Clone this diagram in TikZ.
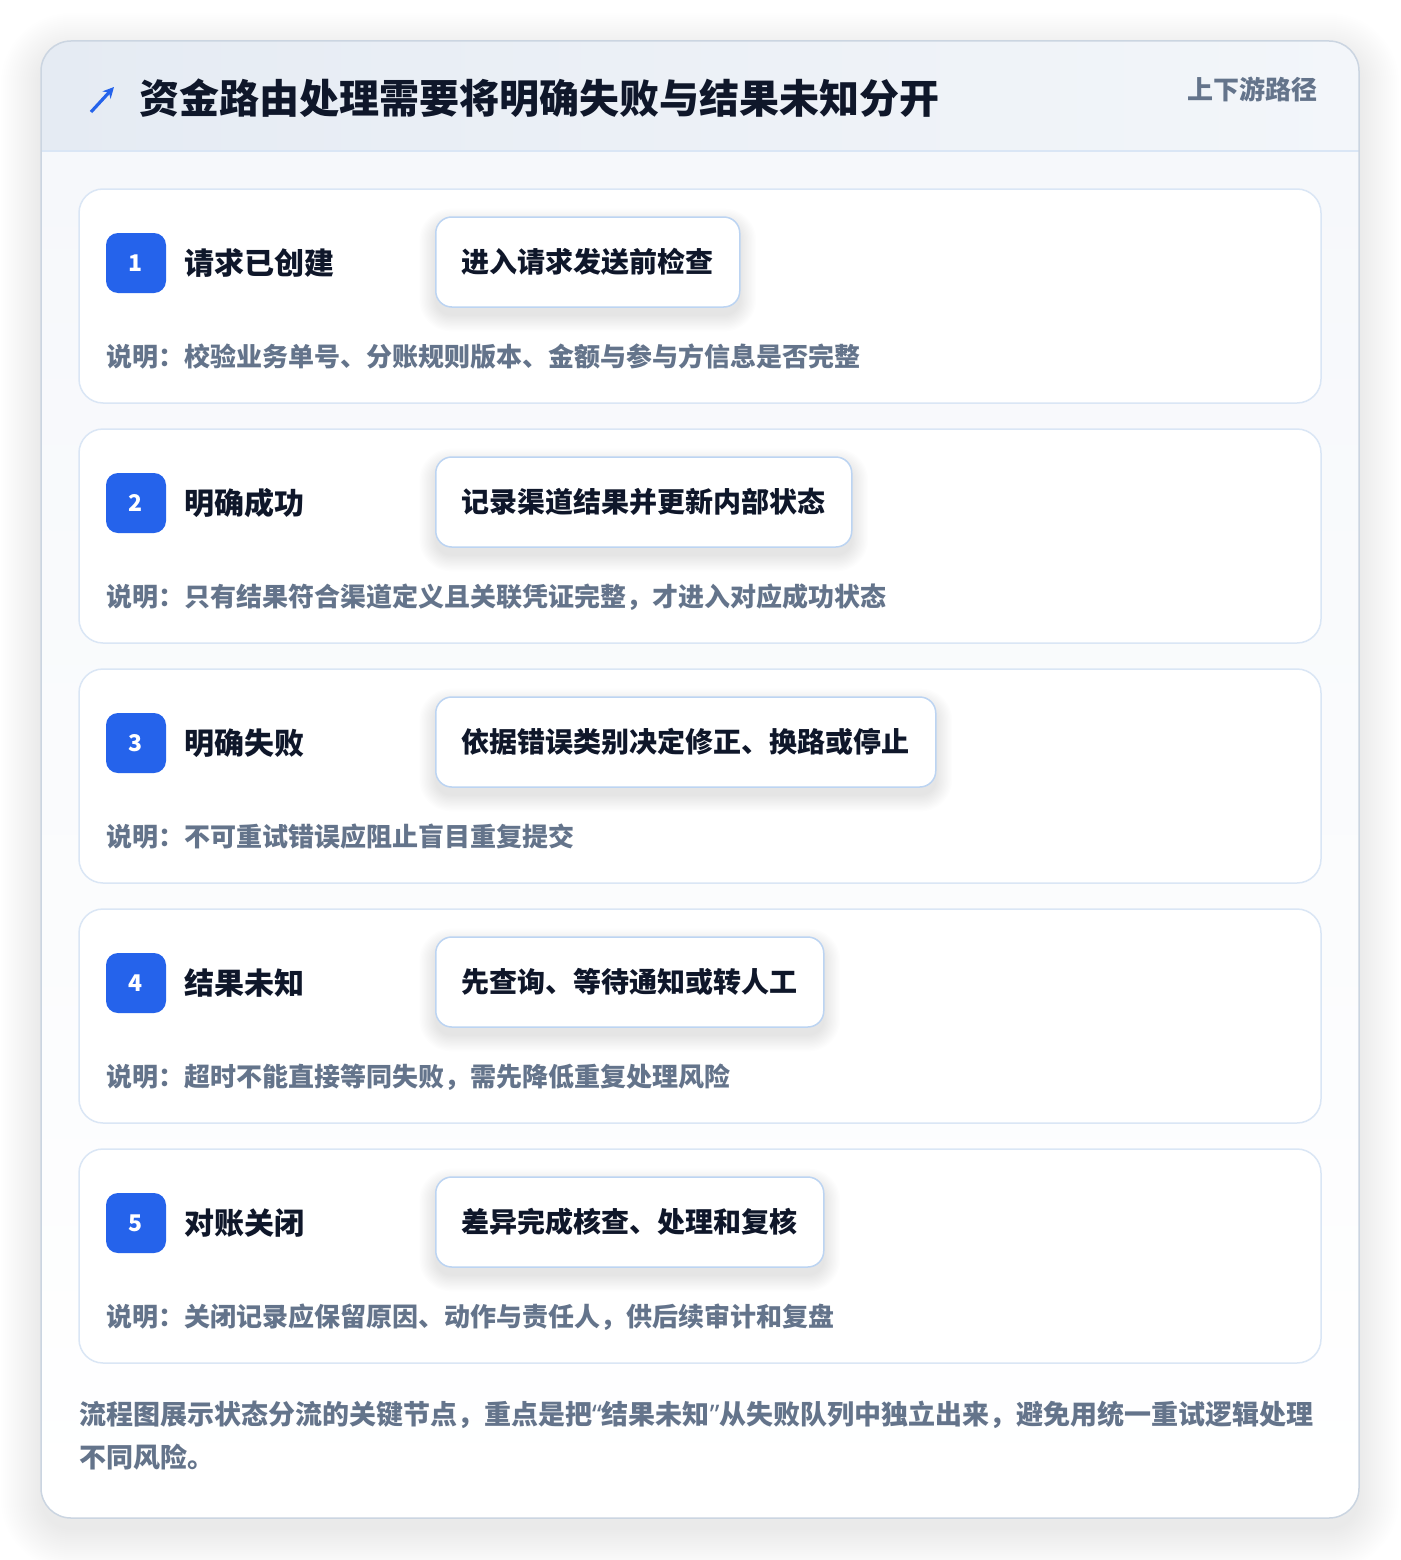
\documentclass[tikz,border=0pt]{standalone}
\usepackage{fontspec}
\setmainfont{Noto Sans CJK SC}
\newfontfamily\latinq{Noto Sans}
\usetikzlibrary{arrows.meta,calc}
\pgfdeclarelayer{back}
\pgfdeclarelayer{mid}
\pgfsetlayers{back,mid,main}
\definecolor{blueA}{HTML}{2563EB}
\definecolor{darkT}{HTML}{0F172A}
\definecolor{grayT}{HTML}{64748B}
\definecolor{cardB}{HTML}{DAE6F5}
\definecolor{actB}{HTML}{BCD4F2}
\definecolor{outerB}{HTML}{CBD5E1}
\definecolor{bodyBg}{HTML}{F6F8FB}
\definecolor{hdrL}{HTML}{E5EBF3}
\definecolor{hdrR}{HTML}{F3F6FA}
\definecolor{shadowC}{HTML}{1E293B}
\tikzset{
  stepcard/.style={fill=white, draw=cardB, line width=1.5pt, rounded corners=24pt},
  badge/.style={fill=blueA, rounded corners=12pt, minimum width=60pt, minimum height=60pt, inner sep=0pt, text=white, font=\fontsize{23}{24}\selectfont\bfseries},
  steplabel/.style={anchor=west, inner sep=0pt, text=darkT, font=\fontsize{30}{34}\selectfont\bfseries},
  actbox/.style={anchor=west, fill=white, draw=actB, line width=1.5pt, rounded corners=16pt, minimum height=90pt, inner xsep=26pt, text=darkT, font=\fontsize{28}{32}\selectfont\bfseries},
  desc/.style={anchor=west, inner sep=0pt, text=grayT, font=\fontsize{26}{30}\selectfont\bfseries},
  foot/.style={anchor=west, inner sep=0pt, text=grayT, font=\fontsize{27}{30}\selectfont\bfseries},
  shadowlayer/.style={fill=shadowC, fill opacity=#1}
}
\begin{document}
\begin{tikzpicture}[x=1pt,y=-1pt]
\useasboundingbox (0,0) rectangle (1400,1560);
\begin{pgfonlayer}{back}
\fill[white] (0,0) rectangle (1400,1560);
% outer card shadow (layered)
\foreach \k in {0,...,20} {
  \fill[shadowlayer=0.0045, rounded corners=30pt+2*\k pt] (41-2*\k,41+12-2*\k) rectangle (1359+2*\k,1518+12+2*\k);
}
\fill[white, rounded corners=30pt] (41,41) rectangle (1359,1518);
\begin{scope}
  \clip[rounded corners=30pt] (41,41) rectangle (1359,1518);
  \shade[top color=bodyBg, bottom color=white] (41,151) rectangle (1359,1518);
  \shade[left color=hdrL, right color=hdrR] (41,41) rectangle (1359,151);
  \draw[cardB, line width=1.5pt] (41,151) -- (1359,151);
\end{scope}
\draw[outerB, line width=1.5pt, rounded corners=30pt] (41,41) rectangle (1359,1518);
\end{pgfonlayer}
% header
\draw[blueA, line width=3.2pt, -{Stealth[length=11pt,width=11pt]}] (91,112) -- (114,87);
\node[anchor=west, inner sep=0pt, text=darkT, font=\fontsize{40}{44}\selectfont\bfseries] (title) at (139,98) {资金路由处理需要将明确失败与结果未知分开};
\node[anchor=east, inner sep=0pt, text=grayT, font=\fontsize{26}{30}\selectfont\bfseries] (tag) at (1318,89) {上下游路径};
% steps
\foreach \i/\lab/\act/\des in {
  1/{请求已创建}/{进入请求发送前检查}/{说明：校验业务单号、分账规则版本、金额与参与方信息是否完整},
  2/{明确成功}/{记录渠道结果并更新内部状态}/{说明：只有结果符合渠道定义且关联凭证完整，才进入对应成功状态},
  3/{明确失败}/{依据错误类别决定修正、换路或停止}/{说明：不可重试错误应阻止盲目重复提交},
  4/{结果未知}/{先查询、等待通知或转人工}/{说明：超时不能直接等同失败，需先降低重复处理风险},
  5/{对账关闭}/{差异完成核查、处理和复核}/{说明：关闭记录应保留原因、动作与责任人，供后续审计和复盘}} {
  \pgfmathsetmacro{\top}{189+240*(\i-1)}
  \begin{pgfonlayer}{back}
    \draw[stepcard] (79,\top) rectangle (1321,\top+214);
  \end{pgfonlayer}
  \node[badge] (badge\i) at (136,\top+74) {\i};
  \node[steplabel] (label\i) at (184,\top+74) {\lab};
  \node[actbox] (act\i) at (435,\top+73) {\act};
  \node[desc] (desc\i) at (106,\top+168) {\des};
  \begin{pgfonlayer}{mid}
    \foreach \k in {0,...,12} {
      \fill[shadowlayer=0.007, rounded corners=16pt+1.3*\k pt]
        ($(act\i.north west)+(-1.3*\k,8-1.3*\k)$) rectangle ($(act\i.south east)+(1.3*\k,8+1.3*\k)$);
    }
  \end{pgfonlayer}
}
% footer
\node[foot] (foot1) at (79,1415) {流程图展示状态分流的关键节点，重点是把{\latinq“}结果未知{\latinq”}从失败队列中独立出来，避免用统一重试逻辑处理};
\node[foot] (foot2) at (79,1457) {不同风险。};
\end{tikzpicture}
\end{document}
